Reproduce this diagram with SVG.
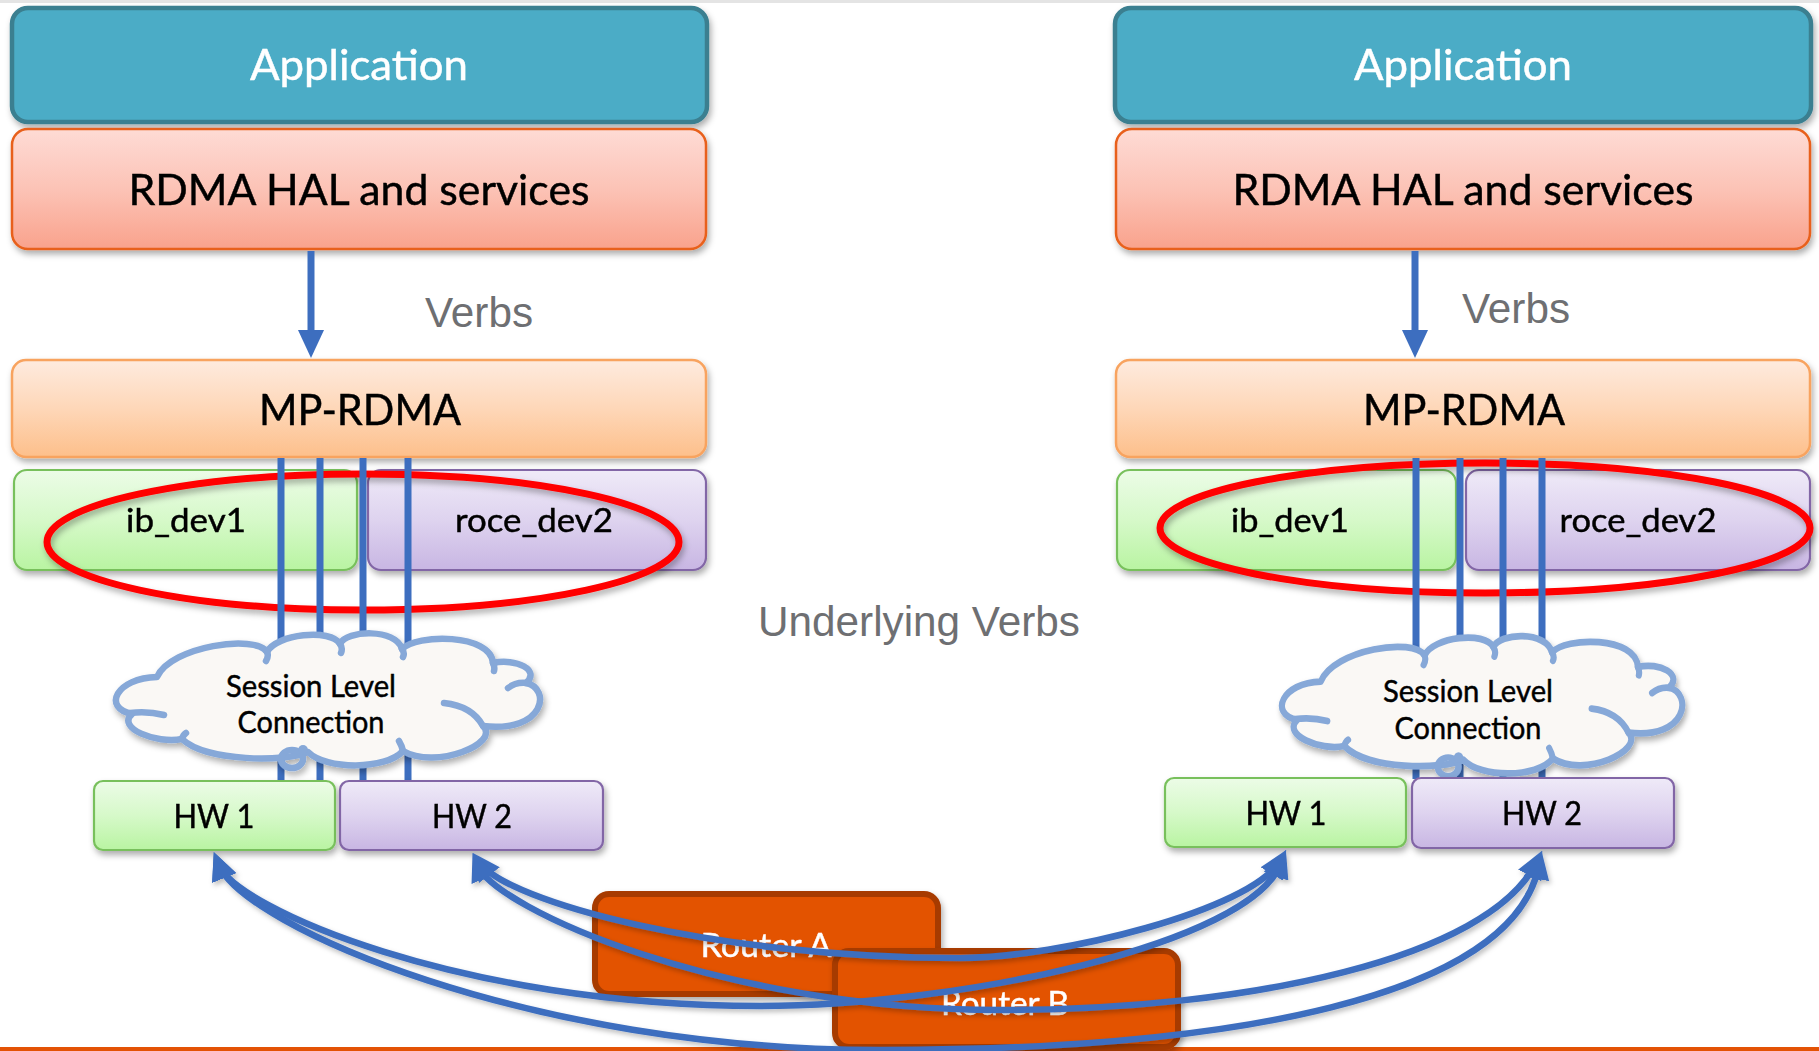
<svg xmlns="http://www.w3.org/2000/svg" width="1819" height="1051" viewBox="0 0 1819 1051">
  <style>
    .lbl { font-family: Lato, "Open Sans", "Liberation Sans", sans-serif; fill: #000; stroke: #000; stroke-width: 0.45; text-anchor: middle; }
    .white { fill: #fff; stroke: #fff; }
    .gray { font-family: "Liberation Sans", Arial, sans-serif; fill: #6e6f72; font-size: 42px; }
    .app { fill: #4bacc6; stroke: #3b7f90; stroke-width: 4.5; }
    .hal { fill: url(#gHal); stroke: #e8601a; stroke-width: 2.5; }
    .mp { fill: url(#gMp); stroke: #f8a35e; stroke-width: 2.5; }
    .grn { fill: url(#gGrn); stroke: #78c05c; stroke-width: 2.2; }
    .pur { fill: url(#gPur); stroke: #8266a6; stroke-width: 2.2; }
    .router { fill: #e35205; stroke: #a73b00; stroke-width: 6; }
    .ring { fill: none; stroke: #ff0000; stroke-width: 7; }
    .wire { stroke: #3d6ebf; stroke-width: 7; }
    .curve { fill: none; stroke: #3d6ebf; stroke-width: 6.5; marker-start: url(#tri); marker-end: url(#tri); }
    .cloud { fill: #faf8f5; stroke: #86a8d8; stroke-width: 6.5; stroke-linejoin: round; }
    .cloudline { fill: none; stroke: #86a8d8; stroke-width: 6.5; stroke-linecap: round; }
  </style>
  <defs>
    <linearGradient id="gHal" x1="0" y1="0" x2="0" y2="1">
      <stop offset="0" stop-color="#fedbd5"/>
      <stop offset="0.5" stop-color="#fcc3b6"/>
      <stop offset="1" stop-color="#f9a28c"/>
    </linearGradient>
    <linearGradient id="gMp" x1="0" y1="0" x2="0" y2="1">
      <stop offset="0" stop-color="#feebdf"/>
      <stop offset="0.5" stop-color="#fed7b8"/>
      <stop offset="1" stop-color="#fdbf8b"/>
    </linearGradient>
    <linearGradient id="gGrn" x1="0" y1="0" x2="0" y2="1">
      <stop offset="0" stop-color="#ecfce7"/>
      <stop offset="0.5" stop-color="#d6f9c9"/>
      <stop offset="1" stop-color="#b9f4a2"/>
    </linearGradient>
    <linearGradient id="gPur" x1="0" y1="0" x2="0" y2="1">
      <stop offset="0" stop-color="#efeaf8"/>
      <stop offset="0.5" stop-color="#ded3ef"/>
      <stop offset="1" stop-color="#c8b6e3"/>
    </linearGradient>
    <filter id="sh" x="-5%" y="-10%" width="112%" height="135%">
      <feDropShadow dx="2" dy="4" stdDeviation="3" flood-color="#000" flood-opacity="0.32"/>
    </filter>
    <filter id="shSoft" filterUnits="userSpaceOnUse" x="0" y="0" width="1819" height="1051">
      <feDropShadow dx="2" dy="3" stdDeviation="2.5" flood-color="#000" flood-opacity="0.25"/>
    </filter>
    <marker id="tri" viewBox="0 0 28 26" markerWidth="28" markerHeight="26" refX="14" refY="13" markerUnits="userSpaceOnUse" orient="auto-start-reverse">
      <path d="M0,0 L28,13 L0,26 Z" fill="#3d6ebf"/>
    </marker>
    <!-- cloud outline in local coordinates -->
    <path id="cloudShape" d="M41,39 C55,8 140,-4 151,14 C160,-4 215,-10 224,6 C230,-8 280,-10 286,11 C300,-4 375,-5 377,25 C400,20 425,32 410,45 C435,50 430,95 367,88 C385,105 320,132 287,113 C270,132 210,132 192,114 C170,124 90,124 66,101 C40,106 0,90 16,76 C-14,70 0,40 41,39 Z"/>
    <path id="cloudInner" d="M14,75 Q32,73 48,77 M151,14 Q153,18 150,23 M224,6 Q227,10 225,15 M286,11 Q289,15 287,19 M377,25 Q379,29 378,33 M392,50 Q400,44 410,45 M328,65 Q356,68 367,88 M287,113 Q286,108 283,103 M66,101 Q67,97 70,95"/>
  </defs>

  <rect width="1819" height="1051" fill="#fff"/>
  <rect x="0" y="0" width="1819" height="3" fill="#e4e4e4"/>
  <rect x="0" y="1047" width="1819" height="4" fill="#e35205"/>

  <!-- left stack -->
  <g id="app-left" filter="url(#sh)">
    <rect class="app" x="12" y="8" width="695" height="114" rx="16"/>
    <text class="lbl white" x="359" y="80" font-size="42" textLength="218" lengthAdjust="spacingAndGlyphs">Application</text>
  </g>
  <g id="hal-left" filter="url(#sh)">
    <rect class="hal" x="12" y="129" width="694" height="120" rx="16"/>
    <text class="lbl" x="359" y="205" font-size="42" textLength="461" lengthAdjust="spacingAndGlyphs">RDMA HAL and services</text>
  </g>
  <g id="mp-left" filter="url(#sh)">
    <rect class="mp" x="12" y="360" width="694" height="97" rx="14"/>
    <text class="lbl" x="360" y="425" font-size="42" textLength="202" lengthAdjust="spacingAndGlyphs">MP-RDMA</text>
  </g>
  <g id="ibdev-left" filter="url(#sh)">
    <rect class="grn" x="14" y="470" width="343" height="100" rx="13"/>
    <text class="lbl" x="186" y="532" font-size="33" textLength="120" lengthAdjust="spacingAndGlyphs">ib_dev1</text>
  </g>
  <g id="rocedev-left" filter="url(#sh)">
    <rect class="pur" x="368" y="470" width="338" height="100" rx="13"/>
    <text class="lbl" x="534" y="532" font-size="33" textLength="158" lengthAdjust="spacingAndGlyphs">roce_dev2</text>
  </g>

  <!-- right stack -->
  <g id="app-right" filter="url(#sh)">
    <rect class="app" x="1115" y="8" width="696" height="114" rx="16"/>
    <text class="lbl white" x="1463" y="80" font-size="42" textLength="218" lengthAdjust="spacingAndGlyphs">Application</text>
  </g>
  <g id="hal-right" filter="url(#sh)">
    <rect class="hal" x="1116" y="129" width="694" height="120" rx="16"/>
    <text class="lbl" x="1463" y="205" font-size="42" textLength="461" lengthAdjust="spacingAndGlyphs">RDMA HAL and services</text>
  </g>
  <g id="mp-right" filter="url(#sh)">
    <rect class="mp" x="1116" y="360" width="694" height="97" rx="14"/>
    <text class="lbl" x="1464" y="425" font-size="42" textLength="202" lengthAdjust="spacingAndGlyphs">MP-RDMA</text>
  </g>
  <g id="ibdev-right" filter="url(#sh)">
    <rect class="grn" x="1117" y="470" width="339" height="100" rx="13"/>
    <text class="lbl" x="1290" y="532" font-size="33" textLength="118" lengthAdjust="spacingAndGlyphs">ib_dev1</text>
  </g>
  <g id="rocedev-right" filter="url(#sh)">
    <rect class="pur" x="1466" y="470" width="344" height="100" rx="13"/>
    <text class="lbl" x="1638" y="532" font-size="33" textLength="157" lengthAdjust="spacingAndGlyphs">roce_dev2</text>
  </g>

  <!-- device groupings -->
  <g id="ring-left" filter="url(#sh)">
    <ellipse class="ring" cx="363" cy="542" rx="316" ry="68"/>
  </g>
  <g id="ring-right" filter="url(#sh)">
    <ellipse class="ring" cx="1485" cy="528" rx="325" ry="65"/>
  </g>

  <!-- labels -->
  <g id="labels">
    <text class="gray" x="425" y="327" textLength="108" lengthAdjust="spacingAndGlyphs">Verbs</text>
    <text class="gray" x="1462" y="323" textLength="108" lengthAdjust="spacingAndGlyphs">Verbs</text>
    <text class="gray" x="758" y="636" textLength="322" lengthAdjust="spacingAndGlyphs">Underlying Verbs</text>
  </g>

  <!-- connectors -->
  <g id="connectors">
    <line class="wire" x1="311" y1="251" x2="311" y2="344" marker-end="url(#tri)"/>
    <line class="wire" x1="1415" y1="251" x2="1415" y2="344" marker-end="url(#tri)"/>
    <line class="wire" x1="281" y1="458" x2="281" y2="782"/>
    <line class="wire" x1="320" y1="458" x2="320" y2="782"/>
    <line class="wire" x1="363" y1="458" x2="363" y2="782"/>
    <line class="wire" x1="408" y1="458" x2="408" y2="782"/>
    <line class="wire" x1="1416" y1="458" x2="1416" y2="779"/>
    <line class="wire" x1="1460" y1="458" x2="1460" y2="779"/>
    <line class="wire" x1="1503" y1="458" x2="1503" y2="779"/>
    <line class="wire" x1="1542" y1="458" x2="1542" y2="779"/>
  </g>

  <!-- session clouds -->
  <g id="cloud-left">
    <g transform="translate(116,638)" filter="url(#sh)">
      <use href="#cloudShape" class="cloud"/>
      <use href="#cloudInner" class="cloudline"/>
      <ellipse cx="176" cy="121" rx="11" ry="9" class="cloudline"/>
      <circle cx="187" cy="112" r="5" fill="#86a8d8"/>
    </g>
    <text class="lbl" x="311" y="697" font-size="31" textLength="170" lengthAdjust="spacingAndGlyphs">Session Level</text>
    <text class="lbl" x="311" y="733" font-size="31" textLength="147" lengthAdjust="spacingAndGlyphs">Connection</text>
  </g>
  <g id="cloud-right">
    <g transform="translate(1282,641) scale(0.944,1.04)" filter="url(#sh)">
      <use href="#cloudShape" class="cloud" vector-effect="non-scaling-stroke"/>
      <use href="#cloudInner" class="cloudline" vector-effect="non-scaling-stroke"/>
      <ellipse cx="176" cy="121" rx="11" ry="9" class="cloudline" vector-effect="non-scaling-stroke"/>
      <circle cx="187" cy="112" r="5" fill="#86a8d8"/>
    </g>
    <text class="lbl" x="1468" y="702" font-size="31" textLength="170" lengthAdjust="spacingAndGlyphs">Session Level</text>
    <text class="lbl" x="1468" y="739" font-size="31" textLength="147" lengthAdjust="spacingAndGlyphs">Connection</text>
  </g>

  <!-- hardware -->
  <g id="hw1-left" filter="url(#sh)">
    <rect class="grn" x="94" y="781" width="241" height="69" rx="9"/>
    <text class="lbl" x="214" y="828" font-size="32" textLength="81" lengthAdjust="spacingAndGlyphs">HW 1</text>
  </g>
  <g id="hw2-left" filter="url(#sh)">
    <rect class="pur" x="340" y="781" width="263" height="69" rx="9"/>
    <text class="lbl" x="472" y="828" font-size="32" textLength="80" lengthAdjust="spacingAndGlyphs">HW 2</text>
  </g>
  <g id="hw1-right" filter="url(#sh)">
    <rect class="grn" x="1165" y="778" width="241" height="69" rx="9"/>
    <text class="lbl" x="1286" y="825" font-size="32" textLength="81" lengthAdjust="spacingAndGlyphs">HW 1</text>
  </g>
  <g id="hw2-right" filter="url(#sh)">
    <rect class="pur" x="1412" y="778" width="262" height="70" rx="9"/>
    <text class="lbl" x="1542" y="825" font-size="32" textLength="80" lengthAdjust="spacingAndGlyphs">HW 2</text>
  </g>

  <!-- routers -->
  <g id="router-a" filter="url(#sh)">
    <rect class="router" x="595" y="894" width="343" height="100" rx="14"/>
    <text class="lbl white" x="766" y="957" font-size="33" textLength="131" lengthAdjust="spacingAndGlyphs">Router A</text>
  </g>
  <g id="router-b" filter="url(#sh)">
    <rect class="router" x="835" y="951" width="343" height="96" rx="14"/>
    <text class="lbl white" x="1005" y="1015" font-size="33" textLength="128" lengthAdjust="spacingAndGlyphs">Router B</text>
  </g>

  <!-- paths between hardware on both hosts -->
  <g id="paths" filter="url(#shSoft)">
    <path class="curve" d="M219,865 C244,926 530,1050 880,1050 C1230,1050 1513.5,998 1539,865"/>
    <path class="curve" d="M219,865 C236,908 460,1006 760,1006 C960,1006 1251,944 1281,863"/>
    <path class="curve" d="M481,864 C509,901 710,958 960,958 C1060,958 1250,910 1279,862"/>
    <path class="curve" d="M478,866 C496,908 720,1010 1000,1010 C1250,1010 1488,958 1536,863"/>
  </g>
</svg>
